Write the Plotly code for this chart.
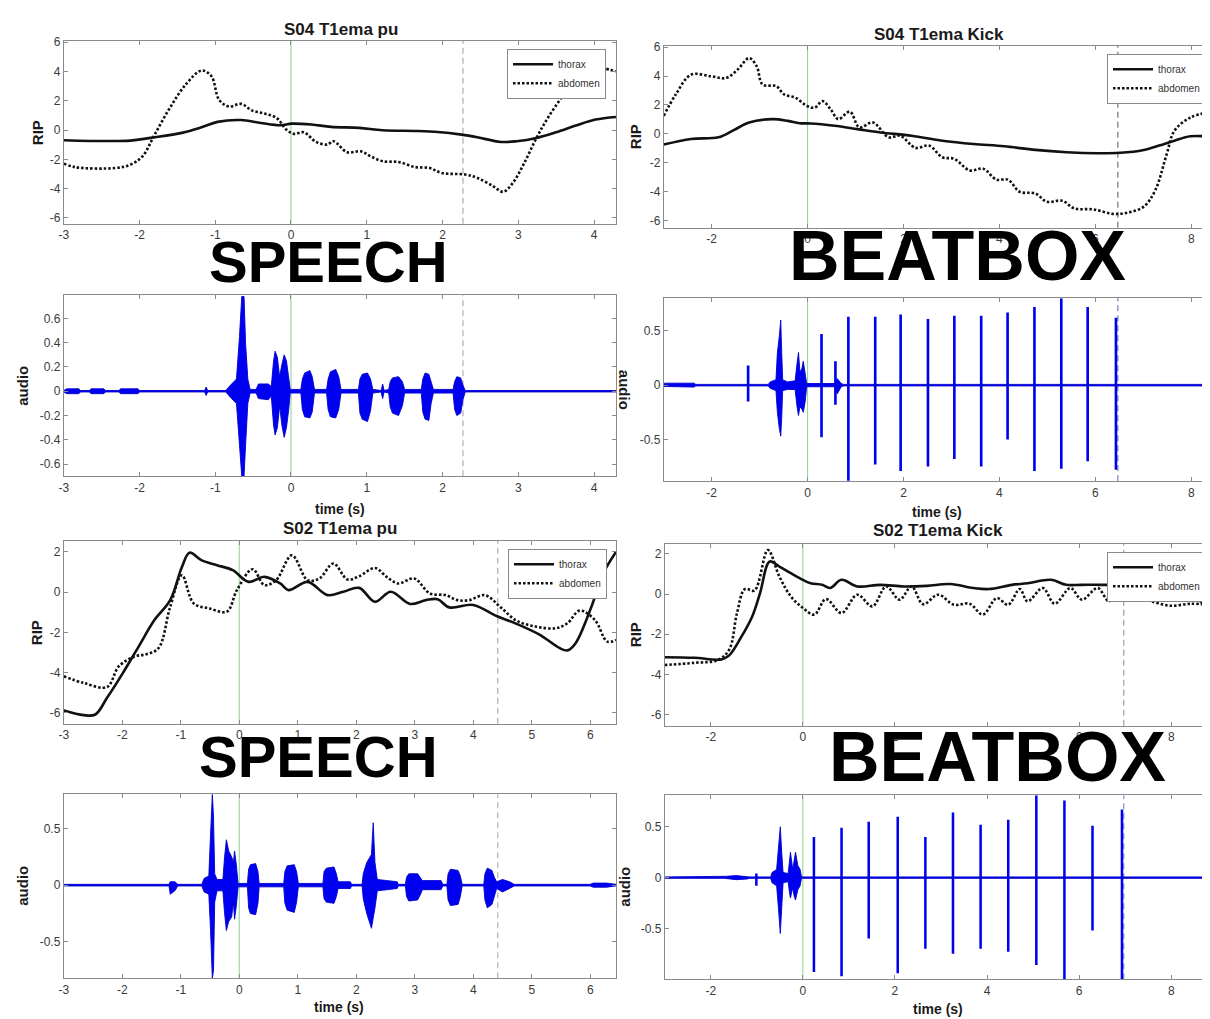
import plotly.graph_objects as go

W, H = 1210, 1019
OFF = 8                      # browser body margin of the page
FW, FH = W - OFF, H - OFF    # figure size so that the page fills the window
FONT = "Liberation Sans, Arial, Helvetica, sans-serif"
BLUE = "#0000f0"

# ------------------------------------------------------------------ data
# Panel A : S04 T1ema pu  (RIP)
a_thorax_t = [-3.0, -2.12, -1.86, -1.44, -1.18, -0.97, -0.66, -0.40, -0.14, 0.01, 0.27, 0.53, 0.90,
              1.21, 1.68, 1.94, 2.25, 2.46, 2.77, 2.98, 3.24, 3.50, 3.76, 4.02, 4.29]
a_thorax_y = [-0.69, -0.72, -0.53, -0.19, 0.19, 0.56, 0.69, 0.49, 0.33, 0.44, 0.38, 0.22, 0.15,
              -0.01, -0.06, -0.13, -0.31, -0.49, -0.81, -0.76, -0.54, -0.15, 0.31, 0.72, 0.90]
a_abdomen_t = [-3.0, -2.84, -2.32, -2.12, -1.96, -1.80, -1.60, -1.39, -1.18, -1.05, -0.95, -0.82, -0.66,
               -0.51, -0.35, -0.19, -0.06, 0.04, 0.17, 0.33, 0.48, 0.56, 0.74, 0.92, 1.05, 1.21, 1.42,
               1.63, 1.83, 1.99, 2.30, 2.46, 2.67, 2.80, 2.93, 3.08, 3.24, 3.39, 3.60, 3.81, 4.02,
               4.12, 4.29]
a_abdomen_y = [-2.29, -2.54, -2.59, -2.36, -1.79, -0.31, 1.51, 3.11, 4.07, 3.68, 2.08, 1.61, 1.79,
               1.33, 1.13, 0.83, 0.03, -0.26, -0.15, -0.81, -0.99, -0.76, -1.51, -1.45, -1.79, -2.13,
               -2.18, -2.52, -2.59, -2.93, -3.04, -3.27, -3.84, -4.22, -3.60, -2.24, -0.54, 0.83,
               2.43, 3.91, 4.48, 4.25, 4.02]

# Panel B : S04 T1ema Kick  (RIP)
b_thorax_t = [-3.0, -2.43, -1.86, -1.54, -1.22, -0.73, -0.41, -0.17, 0.06, 0.56, 1.04, 1.52, 2.17,
              2.81, 3.46, 4.10, 4.75, 5.40, 6.04, 6.52, 7.01, 7.33, 7.65, 7.98, 8.37]
b_thorax_y = [-0.74, -0.35, -0.24, 0.26, 0.79, 1.02, 0.90, 0.74, 0.72, 0.56, 0.33, 0.10, -0.13,
              -0.47, -0.70, -0.86, -1.11, -1.27, -1.34, -1.31, -1.11, -0.81, -0.47, -0.17, -0.19]
b_abdomen_t = [-3.0, -2.75, -2.43, -2.02, -1.70, -1.46, -1.22, -1.06, -0.94, -0.65, -0.49, -0.25,
               -0.01, 0.15, 0.31, 0.48, 0.64, 0.88, 1.08, 1.36, 1.69, 1.93, 2.25, 2.53, 2.81, 3.06,
               3.38, 3.66, 3.94, 4.18, 4.42, 4.75, 4.99, 5.31, 5.56, 5.96, 6.36, 6.69, 7.01, 7.25,
               7.49, 7.65, 7.98, 8.37]
b_abdomen_y = [1.25, 2.73, 4.10, 3.99, 3.87, 4.45, 5.25, 4.67, 3.42, 3.30, 2.73, 2.50, 1.93, 1.82,
               2.27, 1.70, 1.02, 1.54, 0.45, 0.79, -0.24, -0.13, -0.97, -0.81, -1.62, -1.73, -2.53,
               -2.41, -3.17, -3.17, -4.01, -4.13, -4.70, -4.63, -5.16, -5.23, -5.54, -5.45, -5.04,
               -3.90, -1.38, 0.22, 1.13, 1.50]

# Panel E : S02 T1ema pu  (RIP)
e_thorax_t = [-3.0, -2.66, -2.46, -2.26, -1.99, -1.72, -1.45, -1.18, -0.98, -0.85, -0.64, -0.38,
              -0.11, 0.16, 0.43, 0.70, 0.84, 1.17, 1.51, 1.78, 2.05, 2.32, 2.59, 2.92, 3.19, 3.39,
              3.59, 4.00, 4.40, 4.74, 5.14, 5.48, 5.61, 5.75, 6.02, 6.22, 6.44]
e_thorax_y = [-5.89, -6.12, -6.09, -5.26, -4.03, -2.71, -1.39, -0.40, 1.25, 1.96, 1.58, 1.34, 1.09,
              0.51, 0.76, 0.43, 0.10, 0.51, -0.15, 0.02, 0.21, -0.48, 0.02, -0.59, -0.40, -0.35,
              -0.76, -0.64, -1.19, -1.58, -2.13, -2.79, -2.90, -2.54, -0.73, 0.92, 2.00]
e_abdomen_t = [-3.0, -2.66, -2.26, -2.06, -1.79, -1.59, -1.38, -1.18, -0.98, -0.78, -0.51, -0.21,
               -0.04, 0.23, 0.43, 0.63, 0.90, 1.17, 1.37, 1.61, 1.85, 2.05, 2.32, 2.52, 2.72, 2.99,
               3.26, 3.53, 3.73, 3.93, 4.20, 4.47, 4.74, 5.08, 5.41, 5.61, 5.82, 6.08, 6.29, 6.44]
e_abdomen_y = [-4.19, -4.52, -4.72, -3.70, -3.20, -3.09, -2.79, -0.73, 0.84, -0.56, -0.81, -0.97,
               0.10, 1.14, 0.35, 0.59, 1.83, 0.59, 0.68, 1.42, 0.63, 0.79, 1.20, 0.76, 0.43, 0.68,
               -0.07, -0.15, -0.40, -0.40, -0.15, -0.76, -1.42, -1.72, -1.80, -1.55, -0.92, -1.39,
               -2.46, -2.38]

# Panel F : S02 T1ema Kick  (RIP)
f_thorax_t = [-3.0, -2.36, -1.77, -1.60, -1.35, -1.10, -0.93, -0.72, -0.51, -0.26, 0.00, 0.17, 0.42,
              0.59, 0.84, 1.18, 1.68, 2.19, 2.69, 3.20, 3.70, 4.04, 4.54, 4.88, 5.39, 5.72, 6.06,
              6.48, 6.90, 7.24, 7.66, 8.08, 8.50, 8.82]
f_thorax_y = [-3.14, -3.17, -3.25, -3.05, -2.18, -1.11, 0.05, 1.62, 1.37, 1.04, 0.71, 0.54, 0.46,
              0.30, 0.71, 0.38, 0.46, 0.38, 0.41, 0.50, 0.30, 0.25, 0.46, 0.54, 0.71, 0.46, 0.46,
              0.46, 0.43, 0.25, -0.03, -0.15, -0.20, -0.69]
f_abdomen_t = [-3.0, -2.36, -1.85, -1.60, -1.43, -1.26, -1.05, -0.76, -0.51, -0.26, 0.00, 0.25, 0.50,
               0.84, 1.18, 1.51, 1.81, 2.10, 2.36, 2.61, 2.94, 3.28, 3.62, 3.91, 4.21, 4.46, 4.71,
               4.88, 5.21, 5.47, 5.81, 6.06, 6.40, 6.65, 6.90, 7.24, 7.57, 7.99, 8.42, 8.82]
f_abdomen_y = [-3.53, -3.42, -3.28, -2.76, -0.94, 0.25, 0.18, 2.19, 0.87, -0.12, -0.69, -1.02, -0.25,
               -0.94, -0.03, -0.61, 0.38, -0.28, 0.38, -0.50, -0.03, -0.53, -0.48, -1.02, -0.20,
               -0.53, 0.25, -0.36, 0.30, -0.48, 0.30, -0.28, 0.30, -0.36, 0.18, -0.03, -0.36, -0.58,
               -0.48, -0.53]

# Audio envelopes: (time, upper, lower)
c_envelope = [(-3.00, 0.006, -0.006), (-2.96, 0.02, -0.02), (-2.80, 0.02, -0.02), (-2.78, 0.006, -0.006),
              (-2.66, 0.006, -0.006), (-2.64, 0.02, -0.02), (-2.47, 0.02, -0.02), (-2.45, 0.006, -0.006),
              (-2.27, 0.006, -0.006), (-2.25, 0.02, -0.02), (-2.02, 0.02, -0.02), (-2.00, 0.006, -0.006),
              (-1.14, 0.006, -0.006), (-1.12, 0.035, -0.035), (-1.10, 0.006, -0.006),
              (-0.86, 0.006, -0.006), (-0.80, 0.05, -0.05), (-0.72, 0.10, -0.10), (-0.68, 0.45, -0.40),
              (-0.65, 0.78, -0.70), (-0.62, 0.78, -0.70), (-0.60, 0.40, -0.45), (-0.57, 0.10, -0.10),
              (-0.54, 0.015, -0.015), (-0.46, 0.015, -0.015), (-0.43, 0.06, -0.06), (-0.30, 0.06, -0.07),
              (-0.26, 0.04, -0.04), (-0.23, 0.25, -0.28), (-0.21, 0.33, -0.36), (-0.18, 0.28, -0.30),
              (-0.15, 0.12, -0.12), (-0.12, 0.22, -0.28), (-0.09, 0.30, -0.38), (-0.06, 0.25, -0.30),
              (-0.03, 0.12, -0.15), (-0.01, 0.015, -0.015),
              (0.13, 0.015, -0.015), (0.15, 0.10, -0.15), (0.18, 0.15, -0.21), (0.25, 0.17, -0.22),
              (0.28, 0.12, -0.17), (0.31, 0.015, -0.015),
              (0.47, 0.015, -0.015), (0.49, 0.10, -0.15), (0.52, 0.16, -0.21), (0.59, 0.18, -0.22),
              (0.63, 0.12, -0.15), (0.66, 0.015, -0.015),
              (0.89, 0.015, -0.015), (0.91, 0.10, -0.18), (0.94, 0.14, -0.23), (1.01, 0.15, -0.25),
              (1.05, 0.10, -0.16), (1.08, 0.015, -0.015),
              (1.19, 0.006, -0.006), (1.21, 0.06, -0.06), (1.23, 0.006, -0.006),
              (1.29, 0.015, -0.015), (1.31, 0.08, -0.13), (1.34, 0.11, -0.18), (1.42, 0.12, -0.20),
              (1.47, 0.08, -0.12), (1.50, 0.015, -0.015),
              (1.72, 0.015, -0.015), (1.74, 0.10, -0.17), (1.77, 0.15, -0.23), (1.82, 0.14, -0.24),
              (1.85, 0.08, -0.10), (1.88, 0.015, -0.015),
              (2.14, 0.015, -0.015), (2.16, 0.08, -0.15), (2.19, 0.12, -0.20), (2.24, 0.11, -0.18),
              (2.27, 0.05, -0.07), (2.30, 0.006, -0.006), (4.30, 0.006, -0.006)]

d_envelope = [(-3.00, 0.012, -0.012), (-2.98, 0.018, -0.018), (-2.36, 0.018, -0.018), (-2.34, 0.007, -0.007),
              (-0.82, 0.007, -0.007), (-0.78, 0.03, -0.03), (-0.66, 0.05, -0.05), (-0.63, 0.30, -0.25),
              (-0.59, 0.45, -0.40), (-0.56, 0.60, -0.47), (-0.54, 0.30, -0.30), (-0.52, 0.05, -0.05),
              (-0.42, 0.03, -0.04), (-0.26, 0.04, -0.04), (-0.22, 0.20, -0.20), (-0.19, 0.30, -0.28),
              (-0.16, 0.12, -0.20), (-0.12, 0.15, -0.22), (-0.09, 0.22, -0.25), (-0.05, 0.10, -0.15),
              (-0.02, 0.015, -0.015), (0.56, 0.015, -0.015), (0.62, 0.06, -0.08), (0.70, 0.015, -0.015),
              (0.75, 0.007, -0.007), (8.37, 0.007, -0.007)]
d_click_t = [-1.24, 0.29, 0.58, 0.85, 1.41, 1.94, 2.51, 3.06, 3.62, 4.17, 4.73, 5.29, 5.84, 6.43]
d_click_hi = [0.18, 0.47, 0.22, 0.63, 0.63, 0.65, 0.61, 0.64, 0.64, 0.67, 0.72, 0.80, 0.72, 0.62]
d_click_lo = [-0.15, -0.48, -0.18, -0.88, -0.73, -0.79, -0.75, -0.68, -0.75, -0.50, -0.79, -0.77, -0.70, -0.78]

g_envelope = [(-3.00, 0.007, -0.007), (-1.20, 0.007, -0.007), (-1.18, 0.03, -0.08), (-1.10, 0.03, -0.05),
              (-1.05, 0.007, -0.007), (-0.64, 0.007, -0.007), (-0.60, 0.06, -0.06), (-0.52, 0.08, -0.08),
              (-0.49, 0.45, -0.40), (-0.46, 0.80, -0.82), (-0.44, 0.60, -0.75), (-0.42, 0.10, -0.15),
              (-0.38, 0.05, -0.05), (-0.28, 0.05, -0.05), (-0.25, 0.25, -0.25), (-0.22, 0.40, -0.40),
              (-0.18, 0.30, -0.32), (-0.13, 0.25, -0.28), (-0.10, 0.20, -0.15), (-0.08, 0.30, -0.30),
              (-0.05, 0.18, -0.18), (-0.02, 0.015, -0.015),
              (0.14, 0.015, -0.015), (0.16, 0.14, -0.20), (0.19, 0.18, -0.25), (0.28, 0.19, -0.26),
              (0.32, 0.12, -0.16), (0.34, 0.015, -0.015),
              (0.76, 0.015, -0.015), (0.78, 0.12, -0.16), (0.82, 0.17, -0.22), (0.94, 0.18, -0.24),
              (0.98, 0.12, -0.15), (1.01, 0.015, -0.015),
              (1.43, 0.015, -0.015), (1.45, 0.12, -0.12), (1.49, 0.15, -0.15), (1.62, 0.16, -0.16),
              (1.66, 0.10, -0.10), (1.69, 0.03, -0.03), (1.90, 0.03, -0.03), (1.92, 0.007, -0.007),
              (2.10, 0.007, -0.007), (2.12, 0.10, -0.12), (2.18, 0.20, -0.25), (2.26, 0.27, -0.38),
              (2.29, 0.55, -0.30), (2.32, 0.20, -0.20), (2.36, 0.05, -0.05), (2.70, 0.03, -0.03),
              (2.72, 0.007, -0.007),
              (2.84, 0.007, -0.007), (2.86, 0.07, -0.10), (2.90, 0.10, -0.14), (3.05, 0.10, -0.13),
              (3.10, 0.06, -0.08), (3.13, 0.04, -0.04), (3.45, 0.04, -0.04), (3.48, 0.007, -0.007),
              (3.55, 0.007, -0.007), (3.57, 0.10, -0.13), (3.61, 0.14, -0.18), (3.74, 0.13, -0.17),
              (3.78, 0.08, -0.10), (3.81, 0.007, -0.007),
              (4.18, 0.007, -0.007), (4.20, 0.10, -0.13), (4.24, 0.15, -0.20), (4.32, 0.13, -0.17),
              (4.36, 0.07, -0.09), (4.40, 0.03, -0.03), (4.50, 0.05, -0.06), (4.62, 0.03, -0.03),
              (4.70, 0.007, -0.007), (6.00, 0.007, -0.007), (6.05, 0.018, -0.018), (6.28, 0.018, -0.018),
              (6.44, 0.007, -0.007)]

h_envelope = [(-3.00, 0.007, -0.007), (-1.70, 0.007, -0.007), (-1.66, 0.013, -0.013), (-1.45, 0.02, -0.02),
              (-1.20, 0.013, -0.013), (-1.17, 0.007, -0.007), (-0.70, 0.007, -0.007), (-0.67, 0.05, -0.05),
              (-0.57, 0.08, -0.08), (-0.53, 0.30, -0.30), (-0.49, 0.50, -0.55), (-0.46, 0.25, -0.30),
              (-0.43, 0.05, -0.05), (-0.32, 0.04, -0.04), (-0.29, 0.20, -0.15), (-0.27, 0.25, -0.20),
              (-0.22, 0.08, -0.10), (-0.19, 0.15, -0.18), (-0.16, 0.25, -0.22), (-0.11, 0.12, -0.12),
              (-0.06, 0.08, -0.08), (-0.03, 0.007, -0.007), (8.82, 0.007, -0.007)]
h_click_t = [-1.01, 0.24, 0.84, 1.43, 2.06, 2.66, 3.26, 3.86, 4.46, 5.07, 5.68, 6.29, 6.93]
h_click_hi = [0.04, 0.40, 0.49, 0.55, 0.60, 0.40, 0.64, 0.52, 0.57, 0.81, 0.76, 0.51, 0.67]
h_click_lo = [-0.08, -0.93, -0.97, -0.60, -0.94, -0.70, -0.75, -0.70, -0.73, -0.86, -1.0, -0.52, -1.0]

# event markers (onset and offset of each trial)
onset_t = {"A": 0, "B": 0, "C": 0, "D": 0, "E": 0, "F": 0, "G": 0, "H": 0}
offset_t = {"A": 2.27, "B": 6.47, "C": 2.27, "D": 6.47, "E": 4.42, "F": 6.97, "G": 4.42, "H": 6.97}

# tick values and labels
ticks_x_speech1 = [-3, -2, -1, 0, 1, 2, 3, 4]
ticks_x_speech2 = [-3, -2, -1, 0, 1, 2, 3, 4, 5, 6]
ticks_x_beat = [-2, 0, 2, 4, 6, 8]
ticks_y_rip1 = [-6, -4, -2, 0, 2, 4, 6]
ticks_y_rip2 = [-6, -4, -2, 0, 2]
ticks_y_audio_c = [-0.6, -0.4, -0.2, 0, 0.2, 0.4, 0.6]
ticks_y_audio = [-0.5, 0, 0.5]

titles = {"A": "S04 T1ema pu", "B": "S04 T1ema Kick", "E": "S02 T1ema pu", "F": "S02 T1ema Kick"}

# ------------------------------------------------------------------ layout geometry (window pixels)
geom = {  # left, right, top, bottom, xrange, yrange
    "A": (59, 614, 36, 220, [-3, 4.29], [-6.4, 6.1]),
    "B": (662, 1210, 41, 224, [-3, 8.37], [-6.5, 6.1]),
    "C": (59, 614, 292, 474, [-3, 4.29], [-0.70, 0.79]),
    "D": (662, 1210, 295, 479, [-3, 8.37], [-0.885, 0.80]),
    "E": (59, 614, 539, 723, [-3, 6.44], [-6.55, 2.55]),
    "F": (663, 1210, 542, 725, [-3, 8.82], [-6.55, 2.5]),
    "G": (59, 614, 794, 979, [-3, 6.44], [-0.82, 0.80]),
    "H": (663, 1210, 795, 980, [-3, 8.82], [-1.0, 0.81]),
}
order = ["A", "B", "C", "D", "E", "F", "G", "H"]
xt = {"A": ticks_x_speech1, "C": ticks_x_speech1, "B": ticks_x_beat, "D": ticks_x_beat,
      "E": ticks_x_speech2, "G": ticks_x_speech2, "F": ticks_x_beat, "H": ticks_x_beat}
yt = {"A": ticks_y_rip1, "B": ticks_y_rip1, "E": ticks_y_rip2, "F": ticks_y_rip2,
      "C": ticks_y_audio_c, "D": ticks_y_audio, "G": ticks_y_audio, "H": ticks_y_audio}


def lab(v):
    return "%g" % v


def px(x):
    return min(1.0, max(0.0, (x - OFF) / FW))


def py(y):
    return min(1.0, max(0.0, 1 - (y - OFF) / FH))


fig = go.Figure()
layout = dict(width=FW, height=FH, margin=dict(l=0, r=0, t=0, b=0), paper_bgcolor="white",
              plot_bgcolor="white", showlegend=True, barmode="overlay",
              font=dict(family=FONT, size=12, color="#3a3a3a"))
ax_ids = {}
for i, k in enumerate(order):
    n = "" if i == 0 else str(i + 1)
    ax_ids[k] = ("x" + n, "y" + n)
    l, r, t, b, xr, yr = geom[k]
    common = dict(showline=True, linecolor="#8a8a8a", linewidth=1, mirror="ticks", ticks="inside",
                  ticklen=4, tickcolor="#8a8a8a", showgrid=False, zeroline=False,
                  tickfont=dict(family=FONT, size=12, color="#3a3a3a"))
    layout["xaxis" + n] = dict(domain=[px(l), px(r)], range=xr, anchor="y" + n,
                               tickvals=xt[k], ticktext=[lab(v) for v in xt[k]], **common)
    layout["yaxis" + n] = dict(domain=[py(b), py(t)], range=yr, anchor="x" + n,
                               tickvals=yt[k], ticktext=[lab(v) for v in yt[k]], **common)

# RIP traces with their own legends
rip = {"A": (a_thorax_t, a_thorax_y, a_abdomen_t, a_abdomen_y, "legend"),
       "B": (b_thorax_t, b_thorax_y, b_abdomen_t, b_abdomen_y, "legend2"),
       "E": (e_thorax_t, e_thorax_y, e_abdomen_t, e_abdomen_y, "legend3"),
       "F": (f_thorax_t, f_thorax_y, f_abdomen_t, f_abdomen_y, "legend4")}
for k, (tt, ty, at, ay, lg) in rip.items():
    xa, ya = ax_ids[k]
    fig.add_trace(go.Scatter(x=tt, y=ty, mode="lines", name="thorax", xaxis=xa, yaxis=ya, legend=lg,
                             line=dict(color="#111111", width=2.6), line_shape="spline"))
    fig.add_trace(go.Scatter(x=at, y=ay, mode="lines", name="abdomen", xaxis=xa, yaxis=ya, legend=lg,
                             line=dict(color="#111111", width=2.6, dash="2.5px,2px"), line_shape="spline"))

legend_pos = {"legend": (604, 44), "legend2": (1207, 49), "legend3": (605, 547), "legend4": (1207, 550)}
for lg, (lx, ly) in legend_pos.items():
    layout[lg] = dict(x=px(lx), y=py(ly), xanchor="right", yanchor="top", bgcolor="white",
                      bordercolor="#8a8a8a", borderwidth=1, itemwidth=40, tracegroupgap=0,
                      font=dict(family=FONT, size=10, color="#333333"))

# audio traces
audio = {"C": (c_envelope, None), "D": (d_envelope, (d_click_t, d_click_hi, d_click_lo)),
         "G": (g_envelope, None), "H": (h_envelope, (h_click_t, h_click_hi, h_click_lo))}
for k, (env, clicks) in audio.items():
    xa, ya = ax_ids[k]
    t = [e[0] for e in env]
    hi = [e[1] for e in env]
    lo = [e[2] for e in env]
    fig.add_trace(go.Scatter(x=t + t[::-1], y=hi + lo[::-1], mode="lines", fill="toself",
                             fillcolor=BLUE, line=dict(color="#0000d0", width=0.9),
                             xaxis=xa, yaxis=ya, showlegend=False, hoverinfo="skip"))
    if clicks:
        ct, chi, clo = clicks
        fig.add_trace(go.Bar(x=ct, y=[h - l for h, l in zip(chi, clo)], base=clo, width=0.055,
                             marker=dict(color=BLUE, line=dict(width=0)),
                             xaxis=xa, yaxis=ya, showlegend=False, hoverinfo="skip"))

# vertical event lines
dash_col = {"A": "#9a9a9a", "B": "#555555", "C": "#a0a0a0", "D": "#5b66a8",
            "E": "#9a9a9a", "F": "#7f8aa8", "G": "#a0a0a0", "H": "#6d7ac0"}
shapes = []
for k in order:
    xa, ya = ax_ids[k]
    shapes.append(dict(type="line", xref=xa, yref=ya + " domain", x0=onset_t[k], x1=onset_t[k],
                       y0=0, y1=1, line=dict(color="#8fd18f", width=1), layer="below"))
    shapes.append(dict(type="line", xref=xa, yref=ya + " domain", x0=offset_t[k], x1=offset_t[k],
                       y0=0, y1=1, line=dict(color=dash_col[k], width=1, dash="6px,4px"), layer="below"))
layout["shapes"] = shapes

# text annotations
ann = []
title_pos = {"A": (338, 25), "B": (939, 30), "E": (337, 527), "F": (938, 529)}
for k, (x, y) in title_pos.items():
    ann.append(dict(text="<b>%s</b>" % titles[k], x=px(x), y=py(y), xref="paper", yref="paper",
                    showarrow=False, font=dict(family=FONT, size=17, color="#1a1a1a"),
                    xanchor="center", yanchor="middle"))
ylabels = [("RIP", 32, 128, -90), ("RIP", 633, 132, -90), ("audio", 18, 383, -90), ("audio", 622, 387, 90),
           ("RIP", 31, 631, -90), ("RIP", 633, 633, -90), ("audio", 18, 886, -90), ("audio", 623, 887, -90)]
for txt, x, y, ang in ylabels:
    ann.append(dict(text="<b>%s</b>" % txt, x=px(x), y=py(y), xref="paper", yref="paper",
                    showarrow=False, textangle=ang, font=dict(family=FONT, size=15, color="#1a1a1a"),
                    xanchor="center", yanchor="middle"))
xlabels = [(337, 507), (937, 510), (336, 1008), (938, 1010)]
for x, y in xlabels:
    ann.append(dict(text="<b>time (s)</b>", x=px(x), y=py(y), xref="paper", yref="paper",
                    showarrow=False, font=dict(family=FONT, size=14, color="#1a1a1a"),
                    xanchor="center", yanchor="middle"))
big = [("SPEECH", 325, 258, 58), ("BEATBOX", 957, 252, 70), ("SPEECH", 315, 756, 58),
       ("BEATBOX", 997, 756, 70)]
for txt, x, y, s in big:
    ann.append(dict(text="<b>%s</b>" % txt, x=px(x), y=py(y), xref="paper", yref="paper",
                    showarrow=False, font=dict(family=FONT, size=s, color="#000000"),
                    xanchor="center", yanchor="middle"))
layout["annotations"] = ann

fig.update_layout(**layout)
fig.write_html("out.html")
